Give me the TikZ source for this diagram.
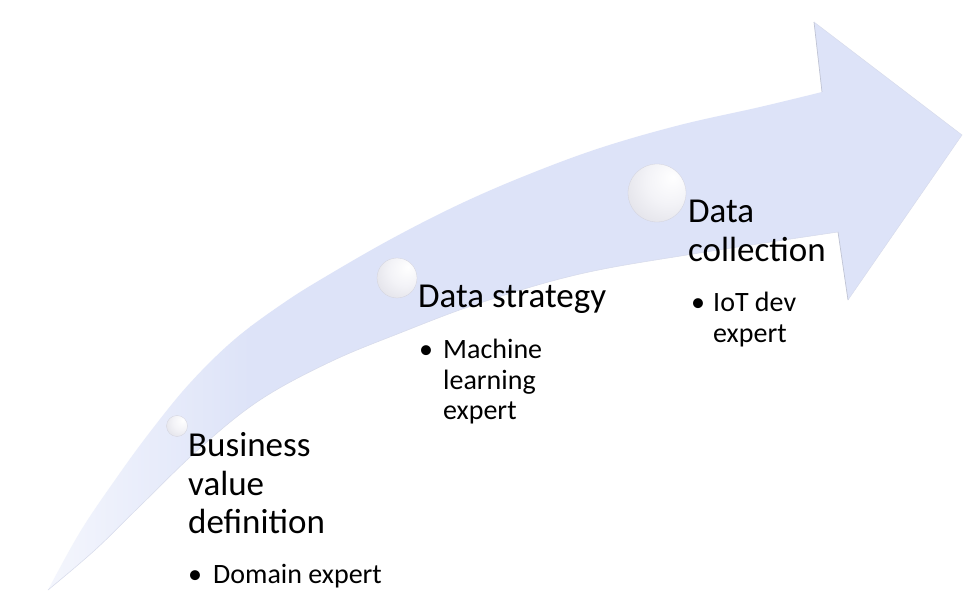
\documentclass[tikz,border=0pt]{standalone}
\usepackage{fontspec}
\setmainfont{Carlito}
\definecolor{arrowblue}{RGB}{221,227,248}
\definecolor{arrowedge}{RGB}{214,218,234}
\definecolor{barbedge}{RGB}{192,196,212}
\definecolor{sphdark}{RGB}{165,165,176}
\definecolor{sphmid}{RGB}{220,220,228}
\definecolor{sphlight}{RGB}{243,243,247}
\definecolor{sphedge}{RGB}{210,210,220}
\pgfdeclareradialshading{glossy}{\pgfpoint{14bp}{14bp}}{color(0bp)=(white); color(20bp)=(sphlight); color(46bp)=(sphmid); color(62bp)=(sphdark); color(80bp)=(sphdark)}
\begin{document}
\begin{tikzpicture}[x=1pt,y=-1pt,
  hd/.style={anchor=base west, inner sep=0pt, font=\fontsize{35}{38.5}\selectfont},
  bt/.style={anchor=base west, inner sep=0pt, font=\fontsize{28}{30.7}\selectfont},
  blt/.style={anchor=base, inner sep=0pt, font=\fontsize{28}{30.7}\selectfont},
  sphere/.style={circle, inner sep=0pt, shade, shading=glossy, draw=sphedge, line width=0.3pt}]
\useasboundingbox (0,0) rectangle (980,612);
\fill[white] (0,0) rectangle (980,612);
% curved arrow
\begin{scope}
\clip plot[smooth, tension=0.6] coordinates {(48,590) (80,532) (115,480) (150,432) (190,383) (235,339) (285,302) (330,274) (393,238) (460,204) (527,175) (600,148) (680,125) (760,107) (822,92)}
  -- (814,22) -- (962,135) -- (848,300) -- (838,232)
  -- plot[smooth, tension=0.6] coordinates {(838,232) (693,254) (580,274) (480,303) (400,333) (330,362) (260,400) (200,448) (140,506) (95,550) (48,590)} -- cycle;
\fill[arrowblue] (250,0) rectangle (980,612);
\shade[left color=arrowblue!30!white, right color=arrowblue] (40,0) rectangle (251,612);
\end{scope}
\draw[arrowedge, line width=0.5pt] plot[smooth, tension=0.6] coordinates {(838,232) (693,254) (580,274) (480,303) (400,333) (330,362) (260,400) (200,448) (140,506) (95,550) (48,590)};
\draw[barbedge, line width=0.7pt] (822,92) -- (814,22);
\draw[arrowedge, line width=0.4pt] (814,22) -- (962,135) -- (848,300);
\draw[barbedge, line width=0.7pt] (848,300) -- (838,232);
% spheres
\node[sphere, minimum size=21pt] (s1) at (177,426) {};
\node[sphere, minimum size=40pt] (s2) at (397,278) {};
\node[sphere, minimum size=58pt] (s3) at (657,193) {};
% texts
\node[hd] (b1) at (188,456) {Business};
\node[hd] (b2) at (188,495) {value};
\node[hd] (b3) at (188,533) {definition};
\node[blt] (bb) at (195,583) {\textbullet};
\node[bt] (b4) at (213,583) {Domain expert};
\node[hd] (d1) at (418,308) {Data strategy};
\node[blt] (db) at (426,358) {\textbullet};
\node[bt] (d2) at (443,358) {Machine};
\node[bt] (d3) at (443,389) {learning};
\node[bt] (d4) at (443,419) {expert};
\node[hd] (c1) at (688,223) {Data};
\node[hd] (c2) at (688,262) {collection};
\node[blt] (cb) at (698,312) {\textbullet};
\node[bt] (c3) at (713,312) {IoT dev};
\node[bt] (c4) at (713,342) {expert};
\end{tikzpicture}
\end{document}
